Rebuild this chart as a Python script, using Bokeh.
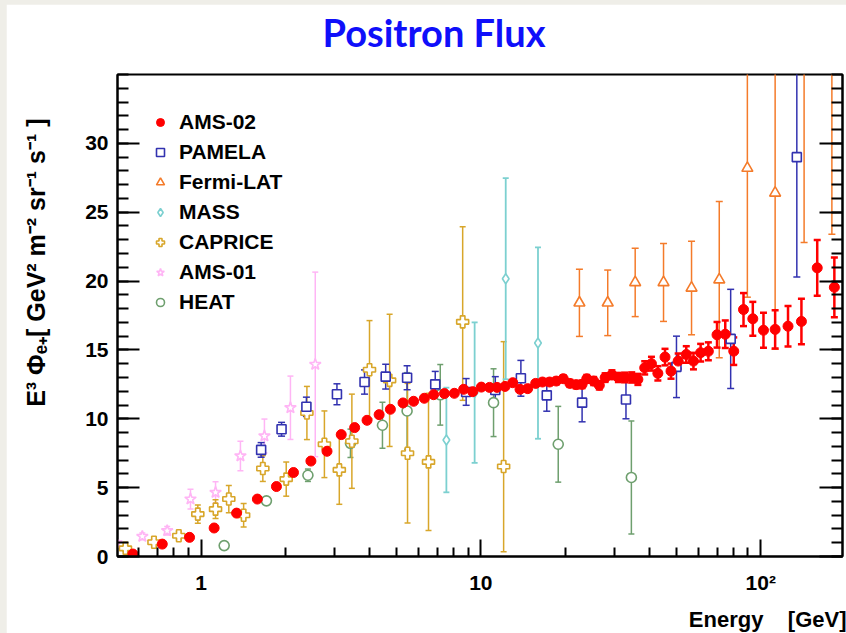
import numpy as np
from bokeh.plotting import figure
from bokeh.layouts import column
from bokeh.models import (ColumnDataSource, Range1d, LinearAxis, Legend, LegendItem,
                          Title, FixedTicker)
from bokeh.embed import file_html
from bokeh.resources import INLINE

# ---------------- data ----------------
ams02_e = [0.571, 0.727, 0.91, 1.114, 1.34, 1.59, 1.86, 2.14, 2.47, 2.82, 3.17, 3.54, 3.92,
           4.33, 4.75, 5.27, 5.75, 6.28, 6.78, 7.41, 8.04, 8.68, 9.35, 10.04, 10.74, 11.42,
           12.2, 13.0, 13.8, 14.7, 15.7, 16.6, 17.6, 18.6, 19.7, 20.8, 21.9, 23.0, 23.9,
           25.3, 26.5, 27.8, 29.4, 31.0, 32.7, 34.6, 36.4, 38.5, 40.7, 42.9, 45.5, 47.8,
           50.7, 54.2, 57.5, 61.0, 65.0, 69.8, 74.7, 80.1, 86.8, 93.7, 102.3, 112.6, 125.2,
           139.8, 159.2, 183.3]
ams02_flux = [0.18, 0.90, 1.39, 2.07, 3.15, 4.17, 5.08, 6.10, 6.93, 7.64, 8.85, 9.36, 9.89,
              10.30, 10.69, 11.15, 11.27, 11.49, 11.75, 11.83, 11.85, 12.14, 11.97, 12.30, 12.28,
              12.28, 12.35, 12.62, 12.14, 12.19, 12.57, 12.67, 12.67, 12.74, 12.91, 12.57, 12.48,
              12.50, 12.90, 12.74, 12.43, 12.99, 13.20, 13.00, 13.00, 13.00, 12.86, 13.70, 14.00,
              13.30, 14.48, 13.46, 14.19, 14.67, 14.19, 14.80, 14.90, 16.10, 16.14, 14.91, 17.93,
              17.26, 16.43, 16.49, 16.72, 17.07, 20.96, 19.55]
ams02_err = [0.05, 0.05, 0.06, 0.06, 0.07, 0.08, 0.08, 0.09, 0.09, 0.10, 0.10, 0.10, 0.10,
             0.10, 0.11, 0.11, 0.11, 0.12, 0.12, 0.12, 0.13, 0.13, 0.14, 0.14, 0.15, 0.15,
             0.16, 0.17, 0.18, 0.19, 0.20, 0.21, 0.22, 0.23, 0.24, 0.25, 0.26, 0.27, 0.28,
             0.29, 0.30, 0.31, 0.32, 0.33, 0.35, 0.37, 0.40, 0.48, 0.50, 0.52, 0.60, 0.55,
             0.55, 0.60, 0.60, 0.64, 0.65, 0.93, 1.00, 1.00, 1.20, 1.23, 1.27, 1.39, 1.47,
             1.65, 2.03, 2.17]

pamela_e = [1.64, 1.94, 2.38, 3.06, 3.84, 4.57, 5.45, 6.87, 8.86, 11.26, 13.9, 17.2, 23.0,
            33.0, 50.0, 78.1, 134.6]
pamela_flux = [7.74, 9.24, 10.87, 11.78, 12.67, 13.06, 12.98, 12.50, 11.95, 12.09, 12.94,
               11.70, 11.17, 11.40, 13.77, 15.80, 29.00]
pamela_err = [0.53, 0.50, 0.70, 0.76, 0.88, 0.90, 0.87, 0.94, 0.97, 0.97, 1.30, 1.15, 1.39,
              1.40, 2.23, 3.60, 8.70]

fermi_e = [22.5, 28.4, 35.6, 44.95, 56.6, 71.1, 89.6, 112.6, 142.9, 179.6]
fermi_flux = [18.42, 18.42, 19.90, 19.90, 19.50, 20.10, 28.20, 26.40, 38.00, 41.00]
fermi_err = [2.44, 2.38, 2.48, 2.83, 3.40, 5.67, 9.37, 11.35, 15.20, 17.60]

mass_e = [7.53, 9.5, 12.27, 16.0]
mass_flux = [8.46, 11.90, 20.17, 15.50]
mass_err = [3.80, 5.10, 7.30, 6.95]

caprice_e = [0.537, 0.679, 0.833, 0.974, 1.127, 1.257, 1.42, 1.663, 2.016, 2.39, 2.76, 3.12,
             3.46, 4.0, 4.72, 5.47, 6.5, 8.61, 12.06]
caprice_flux = [0.59, 1.03, 1.51, 3.08, 3.44, 4.17, 3.00, 6.39, 5.62, 10.42, 8.15, 6.29, 8.37,
                13.56, 12.79, 7.50, 6.87, 17.04, 6.54]
caprice_err_lo = [0.20, 0.25, 0.30, 0.66, 0.68, 0.99, 0.85, 0.94, 1.24, 1.93, 2.42, 2.50,
                  3.42, 3.57, 4.80, 5.07, 4.98, 5.70, 6.19]
caprice_err_hi = [0.20, 0.25, 0.30, 0.66, 0.68, 0.99, 0.85, 0.94, 1.24, 1.93, 2.42, 2.50,
                  3.42, 3.57, 4.80, 5.07, 4.98, 6.90, 9.06]

ams01_e = [0.499, 0.617, 0.757, 0.917, 1.127, 1.383, 1.685, 2.087, 2.56]
ams01_flux = [0.98, 1.46, 1.87, 4.17, 4.65, 7.30, 8.75, 10.80, 13.95]
ams01_err = [0.20, 0.25, 0.30, 0.72, 0.78, 1.07, 1.23, 2.30, 6.70]

heat_e = [1.21, 1.713, 2.41, 3.42, 4.45, 5.45, 7.16, 11.1, 18.9, 34.5]
heat_flux = [0.79, 4.04, 5.90, 8.22, 9.53, 10.57, 11.74, 11.17, 8.15, 5.74]
heat_err = [0.15, 0.20, 0.45, 1.03, 1.67, 2.78, 2.20, 2.46, 2.75, 4.10]

series_names = ["AMS-02", "PAMELA", "Fermi-LAT", "MASS", "CAPRICE", "AMS-01", "HEAT"]

x_major_ticks = [1, 10, 100]
x_minor_ticks = [0.6, 0.7, 0.8, 0.9, 2, 3, 4, 5, 6, 7, 8, 9,
                 20, 30, 40, 50, 60, 70, 80, 90, 200]
x_tick_labels = {1: "1", 10: "10", 100: "10²"}
y_major_ticks = [0, 5, 10, 15, 20, 25, 30]
y_minor_ticks = list(range(0, 36))

# ---------------- figure ----------------
FONT = "Liberation Sans"

p = figure(width=840, height=629, x_axis_type="log",
           x_range=Range1d(0.503, 196), y_range=Range1d(0, 35),
           output_backend="svg", toolbar_location=None,
           min_border_left=111, min_border_right=4, min_border_top=70, min_border_bottom=77)
p.margin = (4, 0, 0, 6)

p.background_fill_color = "white"
p.border_fill_color = "white"
p.xgrid.visible = False
p.ygrid.visible = False
p.outline_line_color = "black"
p.outline_line_width = 2

p.title.text = "Positron Flux"
p.title.align = "left"
p.title.offset = 205
p.title.standoff = 0
p.title.padding = dict(top=0, right=0, bottom=20, left=0)
p.title.text_font = "Lato"
p.title.text_font_style = "bold"
p.title.text_font_size = "38px"
p.title.text_color = "#0F0FFA"

# bottom axis
xa = p.xaxis[0]
xa.ticker = FixedTicker(ticks=x_major_ticks, minor_ticks=x_minor_ticks)
xa.major_label_overrides = x_tick_labels
xa.axis_line_width = 2
xa.major_tick_line_width = 2
xa.minor_tick_line_width = 2
xa.major_tick_in = 17
xa.major_tick_out = 0
xa.minor_tick_in = 9
xa.minor_tick_out = 0
xa.major_label_standoff = 14
xa.major_label_text_font = FONT
xa.major_label_text_font_style = "bold"
xa.major_label_text_font_size = "21px"
xa.major_label_text_color = "black"

# left axis
ya = p.yaxis[0]
ya.ticker = FixedTicker(ticks=y_major_ticks, minor_ticks=y_minor_ticks)
ya.axis_line_width = 2
ya.major_tick_line_width = 2
ya.minor_tick_line_width = 2
ya.major_tick_in = 22
ya.major_tick_out = 0
ya.minor_tick_in = 11
ya.minor_tick_out = 0
ya.major_label_standoff = 9
ya.major_label_text_font = FONT
ya.major_label_text_font_style = "bold"
ya.major_label_text_font_size = "21px"
ya.major_label_text_color = "black"

# right mirror axis (ticks only)
ra = LinearAxis(ticker=FixedTicker(ticks=y_major_ticks, minor_ticks=y_minor_ticks))
ra.axis_line_width = 2
ra.major_tick_line_width = 2
ra.minor_tick_line_width = 2
ra.major_tick_in = 23
ra.major_tick_out = 0
ra.minor_tick_in = 11
ra.minor_tick_out = 0
ra.major_label_standoff = 0
ra.major_label_overrides = {t: "" for t in y_major_ticks}
p.add_layout(ra, "right")

# axis titles
ytitle = Title(text="E³ Φₑ₊[ GeV² m⁻² sr⁻¹ s⁻¹ ]", align="right", offset=44, standoff=24,
               text_font=FONT, text_font_style="bold", text_font_size="25px",
               text_color="black")
ytitle.padding = dict(top=0, right=0, bottom=21, left=0)
p.add_layout(ytitle, "left")
xtitle = Title(text="Energy\u00a0\u00a0\u00a0\u00a0[GeV]", align="right", offset=-4, standoff=0,
               vertical_align="top",
               text_font=FONT, text_font_style="bold", text_font_size="22px",
               text_color="black")
xtitle.padding = dict(top=10, right=0, bottom=0, left=0)
p.add_layout(xtitle, "below")


# ---------------- series ----------------
def make_source(e, f, lo, hi):
    return ColumnDataSource(dict(x=e, y=f,
                                 lo=[a - b for a, b in zip(f, lo)],
                                 hi=[a + b for a, b in zip(f, hi)]))


specs = [
    # name, e, flux, err_lo, err_hi, color, marker, size, bar width, cap
    ("HEAT", heat_e, heat_flux, heat_err, heat_err, "#6E9F6E", "circle", 10, 1.5, 6),
    ("AMS-01", ams01_e, ams01_flux, ams01_err, ams01_err, "#FFB5F5", "star", 12, 1.5, 6),
    ("CAPRICE", caprice_e, caprice_flux, caprice_err_lo, caprice_err_hi, "#D8A62A", "plus", 12, 1.5, 6),
    ("MASS", mass_e, mass_flux, mass_err, mass_err, "#7CD0D0", "diamond", 10, 1.8, 6),
    ("Fermi-LAT", fermi_e, fermi_flux, fermi_err, fermi_err, "#F47B2A", "triangle", 11, 1.5, 7),
    ("PAMELA", pamela_e, pamela_flux, pamela_err, pamela_err, "#3232B0", "square", 9, 1.5, 7),
    ("AMS-02", ams02_e, ams02_flux, ams02_err, ams02_err, "#FF0000", "circle", 10, 2.5, 7),
]

sources = {}
for name, e, f, lo, hi, color, marker, size, bw, cap in specs:
    src = make_source(e, f, lo, hi)
    sources[name] = src
    p.segment(x0="x", y0="lo", x1="x", y1="hi", source=src, line_color=color, line_width=bw)
    p.scatter(x="x", y="lo", source=src, marker="dash", size=cap, line_color=color, line_width=bw)
    p.scatter(x="x", y="hi", source=src, marker="dash", size=cap, line_color=color, line_width=bw)

renderers = {}
for name, e, f, lo, hi, color, marker, size, bw, cap in specs:
    src = sources[name]
    if name == "AMS-02":
        r = p.scatter(x="x", y="y", source=src, marker="circle", size=size,
                      fill_color=color, line_color=color)
    else:
        r = p.scatter(x="x", y="y", source=src, marker=marker, size=size,
                      fill_color="white", line_color=color, line_width=1.6)
    renderers[name] = r

legend = Legend(items=[LegendItem(label=n, renderers=[renderers[n]]) for n in series_names],
                location="top_left")
legend.margin = 33
legend.padding = 0
legend.spacing = 0
legend.glyph_width = 20
legend.glyph_height = 30
legend.label_height = 30
legend.label_standoff = 9
legend.label_text_font = FONT
legend.label_text_font_style = "bold"
legend.label_text_font_size = "21px"
legend.label_text_color = "black"
legend.border_line_alpha = 0
legend.background_fill_alpha = 0
p.add_layout(legend)

page = column(p, styles={"background-color": "#EFEEE8"})

open("out.html", "w").write(file_html(page, INLINE))
